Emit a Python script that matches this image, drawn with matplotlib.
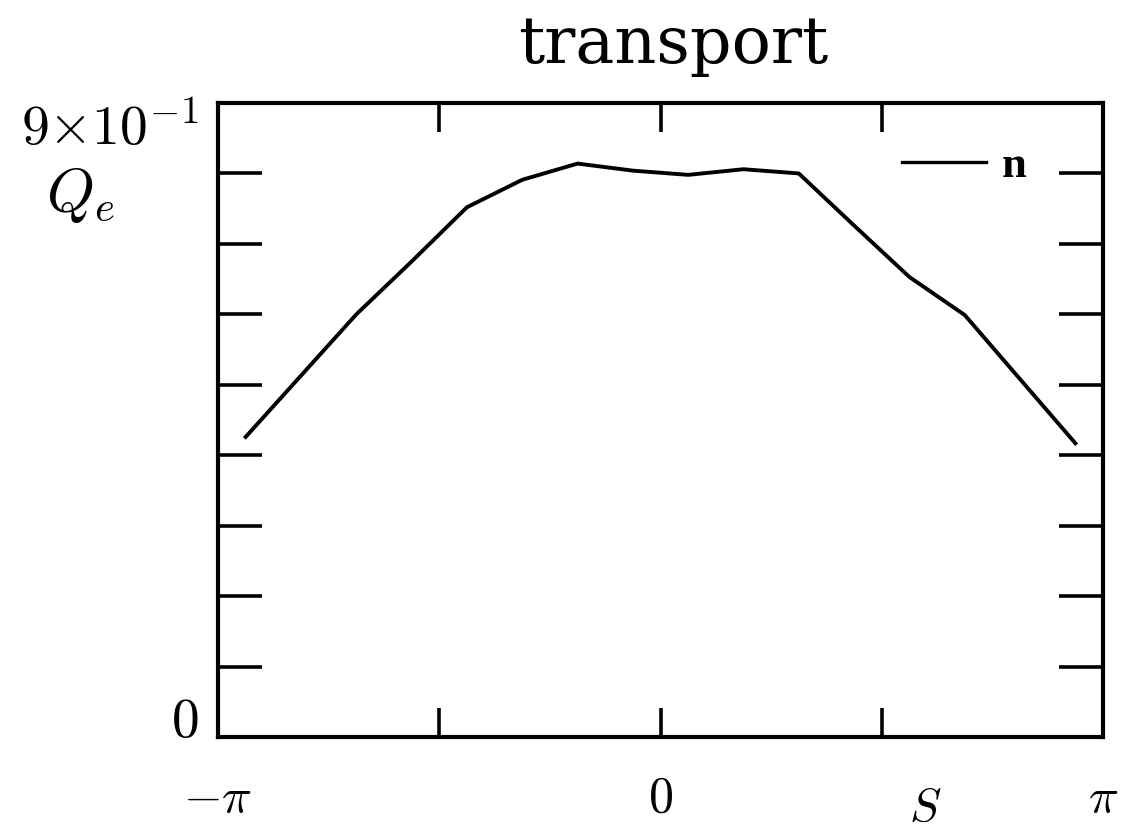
import numpy as np
import matplotlib
matplotlib.use("Agg")
import matplotlib.pyplot as plt

plt.rcParams['mathtext.fontset'] = 'cm'
plt.rcParams['font.family'] = 'DejaVu Serif'

# bin centres at odd multiples of pi/16
s_idx = np.array([-15, -13, -11, -9, -7, -5, -3, -1, 1, 3, 5, 7, 9, 11, 13, 15])
s = s_idx * np.pi / 16
qe_n = [0.426, 0.513, 0.600, 0.675, 0.752, 0.791, 0.814, 0.804,
        0.798, 0.806, 0.800, 0.726, 0.653, 0.599, 0.508, 0.417]

ymin, ymax = 0.0, 0.9
xticks = [-np.pi, -np.pi / 2, 0, np.pi / 2, np.pi]
xlabels = [r'$-\pi$', '', r'$0$', '', r'$\pi$']
yticks = [0.1, 0.2, 0.3, 0.4, 0.5, 0.6, 0.7, 0.8]

fig = plt.figure(figsize=(11.29, 8.30), dpi=100)
ax = fig.add_axes([0.1931, 0.1120, 0.7839, 0.7639])

ax.plot(s, qe_n, color='black', lw=2.8, label='n')

ax.set_xlim(-np.pi, np.pi)
ax.set_ylim(ymin, ymax)

for sp in ax.spines.values():
    sp.set_linewidth(3.0)

ax.set_xticks(xticks)
ax.set_xticklabels(xlabels, fontsize=36)
ax.set_yticks(yticks)
ax.set_yticklabels([])
ax.tick_params(axis='x', direction='in', length=21, width=2.6,
               top=True, pad=44)
ax.tick_params(axis='y', direction='in', length=32, width=2.6,
               right=True)
for lab in ax.get_xticklabels():
    lab.set_va('center')

# y range labels
ytr = ax.get_yaxis_transform()
ax.text(-0.022, ymax, r'$9{\times}10^{-1}$', transform=ytr,
        ha='right', va='top', fontsize=40)
ax.text(-0.022, ymin, r'$0$', transform=ytr,
        ha='right', va='baseline', fontsize=40)

ax.text(-0.156, 0.855, r'$Q_e$', transform=ax.transAxes,
        ha='center', va='center', fontsize=44)
ax.text(0.799, -0.112, r'$S$', transform=ax.transAxes,
        ha='center', va='center', fontsize=34)

fig.text(0.596, 0.924, 'transport', ha='center', va='baseline',
         fontsize=47, family='DejaVu Serif')

leg = ax.legend(loc='center left', bbox_to_anchor=(0.7725, 0.9006),
                frameon=False, handlelength=1.9, handletextpad=0.35,
                borderpad=0, borderaxespad=0,
                prop={'family': 'Liberation Serif', 'weight': 'bold', 'size': 32})
for h in leg.get_lines():
    h.set_linewidth(2.4)

fig.savefig('out.png', dpi=100)
